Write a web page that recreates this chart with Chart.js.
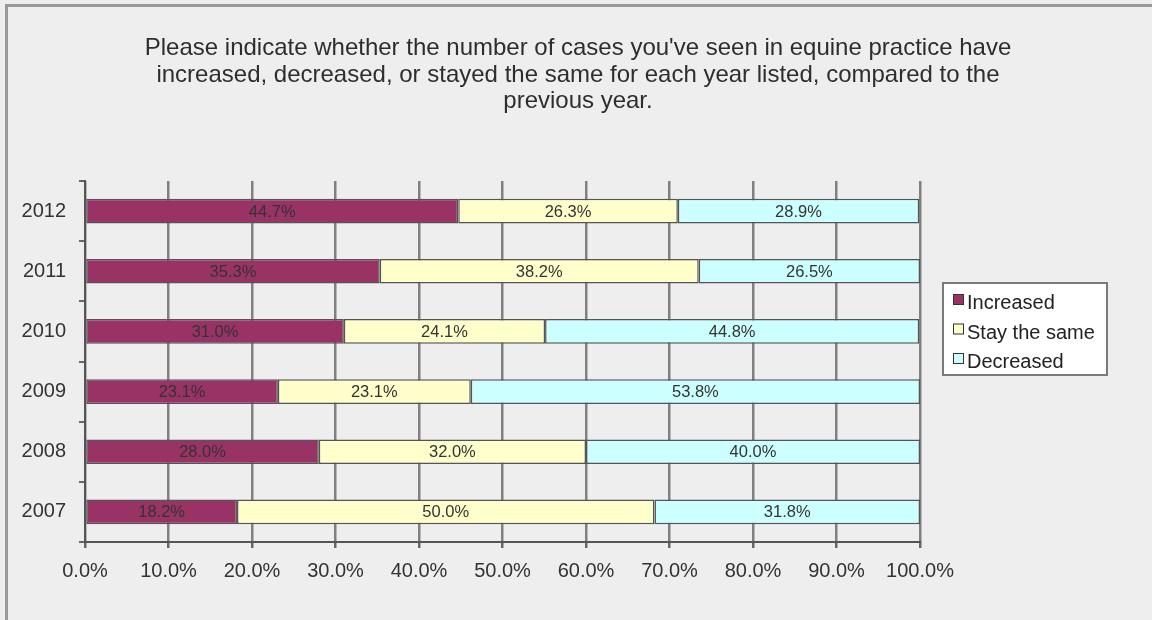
<!DOCTYPE html>
<html>
<head>
<meta charset="utf-8">
<script src="https://cdn.jsdelivr.net/npm/chart.js@4/dist/chart.umd.min.js"></script>
<style>
  body { margin: 0; background: #eeeeee; }
  #wrap { width: 1152px; height: 620px; }
</style>
</head>
<body>
<div id="wrap"><canvas id="myChart" width="1152" height="620"></canvas></div>
<script>
const years = ['2012', '2011', '2010', '2009', '2008', '2007'];
const increased = [44.7, 35.3, 31.0, 23.1, 28.0, 18.2];
const stayedSame = [26.3, 38.2, 24.1, 23.1, 32.0, 50.0];
const decreased = [28.9, 26.5, 44.8, 53.8, 40.0, 31.8];
const titleLines = [
    "Please indicate whether the number of cases you've seen in equine practice have",
    "increased, decreased, or stayed the same for each year listed, compared to the",
    "previous year."
];

const FONT = '"Liberation Sans", Arial, sans-serif';

// grey backdrop + frame line along the top and left
const frame = {
    id: 'frame',
    beforeDraw(chart) {
        const c = chart.ctx;
        c.save();
        c.fillStyle = '#eeeeee';
        c.fillRect(0, 0, chart.width, chart.height);
        c.strokeStyle = '#999999';
        c.lineWidth = 3;
        c.beginPath();
        c.moveTo(6.5, chart.height + 5);
        c.lineTo(6.5, 5.5);
        c.lineTo(chart.width + 5, 5.5);
        c.stroke();
        c.restore();
    }
};

const titleBlock = {
    id: 'titleBlock',
    afterDraw(chart) {
        const c = chart.ctx;
        c.save();
        c.font = '24px ' + FONT;
        c.fillStyle = '#2e2e2e';
        c.textAlign = 'center';
        c.textBaseline = 'alphabetic';
        titleLines.forEach((line, i) => {
            c.fillText(line, chart.width / 2 + 2, 55 + i * 26.5);
        });
        c.restore();
    }
};

// percentage written in the middle of every segment
const segLabels = {
    id: 'segLabels',
    afterDatasetsDraw(chart) {
        const c = chart.ctx;
        c.save();
        c.font = '16.5px ' + FONT;
        c.fillStyle = '#333333';
        c.textAlign = 'center';
        c.textBaseline = 'middle';
        chart.data.datasets.forEach((ds, di) => {
            chart.getDatasetMeta(di).data.forEach((bar, i) => {
                const cx = (bar.x + bar.base) / 2;
                c.fillText(ds.data[i].toFixed(1) + '%', cx, bar.y + 1);
            });
        });
        c.restore();
    }
};

const boxLegend = {
    id: 'boxLegend',
    afterDraw(chart) {
        const c = chart.ctx;
        c.save();
        c.fillStyle = '#ffffff';
        c.fillRect(943, 283, 164, 92);
        c.strokeStyle = '#7a7a7a';
        c.lineWidth = 2;
        c.strokeRect(943, 283, 164, 92);
        c.font = '20px ' + FONT;
        c.textBaseline = 'alphabetic';
        c.textAlign = 'left';
        chart.data.datasets.forEach((ds, i) => {
            const y = 309 + i * 29.5;
            c.fillStyle = ds.backgroundColor;
            c.fillRect(953.5, y - 14.5, 10, 10);
            c.strokeStyle = '#333333';
            c.lineWidth = 1;
            c.strokeRect(953.5, y - 14.5, 10, 10);
            c.fillStyle = '#222222';
            c.fillText(ds.label, 967, y);
        });
        c.restore();
    }
};

const ctx = document.getElementById('myChart').getContext('2d');
new Chart(ctx, {
    type: 'bar',
    data: {
        labels: years,
        datasets: [
            {
                label: 'Increased',
                data: increased,
                backgroundColor: '#993366',
                borderColor: '#555555',
                borderWidth: 1.5,
                borderSkipped: false
            },
            {
                label: 'Stay the same',
                data: stayedSame,
                backgroundColor: '#ffffcc',
                borderColor: '#555555',
                borderWidth: 1.5,
                borderSkipped: false
            },
            {
                label: 'Decreased',
                data: decreased,
                backgroundColor: '#ccffff',
                borderColor: '#555555',
                borderWidth: 1.5,
                borderSkipped: false
            }
        ]
    },
    options: {
        indexAxis: 'y',
        responsive: false,
        animation: false,
        barPercentage: 0.41,
        categoryPercentage: 1,
        layout: {
            padding: { top: 181, right: 232, left: 0, bottom: 0 }
        },
        scales: {
            x: {
                stacked: true,
                min: 0,
                max: 100,
                afterFit: (scale) => { scale.height = 78; },
                grid: {
                    color: '#808080',
                    lineWidth: 2.5,
                    tickLength: 6,
                    tickColor: '#666666'
                },
                border: { color: '#555555', width: 2 },
                ticks: {
                    stepSize: 10,
                    padding: 11,
                    color: '#333333',
                    font: { family: FONT, size: 20 },
                    callback: (v) => v.toFixed(1) + '%'
                }
            },
            y: {
                stacked: true,
                afterFit: (scale) => { scale.width = 85; },
                grid: {
                    offset: true,
                    drawOnChartArea: false,
                    tickLength: 6,
                    color: '#666666',
                    lineWidth: 2
                },
                border: { color: '#555555', width: 2 },
                ticks: {
                    padding: 13,
                    color: '#333333',
                    font: { family: FONT, size: 20 }
                }
            }
        },
        plugins: {
            legend: { display: false },
            tooltip: { enabled: false }
        }
    },
    plugins: [frame, titleBlock, segLabels, boxLegend]
});
</script>
</body>
</html>
